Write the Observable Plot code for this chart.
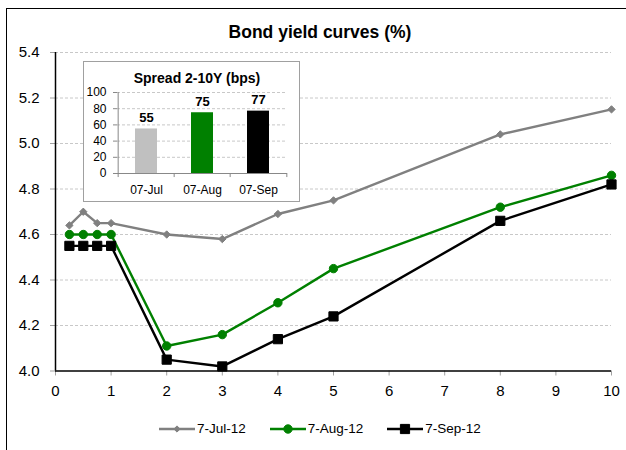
<!DOCTYPE html>
<html>
<head>
<meta charset="utf-8">
<script src="https://cdn.jsdelivr.net/npm/d3@7"></script>
<script src="https://cdn.jsdelivr.net/npm/@observablehq/plot@0.6"></script>
<style>
  body { margin: 0; background: #fff; font-family: "Liberation Sans", Arial, sans-serif; }
  #chart { position: relative; width: 626px; height: 450px; overflow: hidden; background: #fff; }
  #frame { position: absolute; left: 6px; top: 8px; width: 700px; height: 500px;
           border-left: 1.5px solid #000; border-top: 1.5px solid #000; }
  #title { position: absolute; left: 0; width: 640px; top: 22px; text-align: center;
           font-weight: bold; font-size: 17.5px; color: #000; }
  .layer { position: absolute; left: 0; top: 0; }
  #inset-box { position: absolute; left: 83px; top: 61px; width: 215px; height: 139px;
               border: 1px solid #a0a0a0; background: #fff; }
  #inset-title { position: absolute; left: 83px; width: 228px; top: 70px; text-align: center;
                 font-weight: bold; font-size: 14px; color: #000; }
  #legend { position: absolute; left: 159px; top: 421px; display: flex; align-items: center;
            font-size: 13.5px; color: #000; }
  #legend .item { display: flex; align-items: center; margin-right: 24px; }
  #legend svg { display: block; margin-right: 2px; }
</style>
</head>
<body>
<div id="chart">
  <div id="frame"></div>
  <div id="title">Bond yield curves (%)</div>
</div>
<script>
// Maturities (years) and yields (%) for each curve date
const maturities = [0.25, 0.5, 0.75, 1, 2, 3, 4, 5, 8, 10];
const yieldsJul = [4.64, 4.70, 4.65, 4.65, 4.60, 4.58, 4.69, 4.75, 5.04, 5.15];
const yieldsAug = [4.60, 4.60, 4.60, 4.60, 4.11, 4.16, 4.30, 4.45, 4.72, 4.86];
const yieldsSep = [4.55, 4.55, 4.55, 4.55, 4.05, 4.02, 4.14, 4.24, 4.66, 4.82];

const seriesNames = ["7-Jul-12", "7-Aug-12", "7-Sep-12"];
const seriesColors = ["#808080", "#008000", "#000000"];
const seriesSymbols = ["diamond2", "circle", "square"];
const seriesDotR = [3.3, 4.2, 5.2];

const yTicks = [4.0, 4.2, 4.4, 4.6, 4.8, 5.0, 5.2, 5.4];
const xTicks = [0, 1, 2, 3, 4, 5, 6, 7, 8, 9, 10];

// 2-10Y spread (bps) inset
const spreadMonths = ["07-Jul", "07-Aug", "07-Sep"];
const spreadBps = [55, 75, 77];
const spreadColors = ["#c0c0c0", "#008000", "#000000"];
const spreadTicks = [0, 20, 40, 60, 80, 100];

const allYields = [yieldsJul, yieldsAug, yieldsSep];
const rows = seriesNames.flatMap((name, i) =>
  maturities.map((m, j) => ({series: name, maturity: m, yield: allYields[i][j]}))
);

const chart = document.getElementById("chart");
const font = "'Liberation Sans', Arial, sans-serif";

// Main yield curve chart
const main = Plot.plot({
  width: 626,
  height: 450,
  marginLeft: 55,
  marginRight: 15,
  marginTop: 52,
  marginBottom: 79.5,
  style: {fontFamily: font, fontSize: "15px", background: "transparent", color: "#000"},
  x: {domain: [0, 10]},
  y: {domain: [4.0, 5.4]},
  color: {domain: seriesNames, range: seriesColors},
  marks: [
    Plot.gridY(yTicks.slice(1), {stroke: "#c8c8c8", strokeOpacity: 1, strokeDasharray: "3,2"}),
    Plot.axisY(yTicks, {tickFormat: d3.format(".1f"), tickSize: 5, tickPadding: 11,
                        stroke: "#a0a0a0", fill: "#000", fontSize: 15, label: null}),
    Plot.axisX(xTicks, {tickSize: 5, tickPadding: 9, stroke: "#a0a0a0", fill: "#000",
                        fontSize: 15, label: null}),
    Plot.ruleX([0], {y1: 4.0, y2: 5.4, stroke: "#000", strokeWidth: 1.5}),
    Plot.ruleY([4.0], {x1: 0, x2: 10, stroke: "#000", strokeWidth: 1.5}),
    Plot.line(rows, {x: "maturity", y: "yield", z: "series", stroke: "series", strokeWidth: 2.4}),
    ...seriesNames.map((name, i) =>
      Plot.dot(rows.filter(d => d.series === name), {
        x: "maturity", y: "yield", symbol: () => seriesSymbols[i],
        r: seriesDotR[i], fill: seriesColors[i], stroke: seriesColors[i], strokeWidth: 1
      })
    )
  ]
});
main.classList.add("layer");
chart.appendChild(main);

// Inset box and spread bar chart
const box = document.createElement("div");
box.id = "inset-box";
chart.appendChild(box);

const insetW = 216, insetH = 140, insetML = 34, insetMR = 12;
const bandStep = (insetW - insetML - insetMR) / spreadMonths.length;
const spreadRows = spreadMonths.map((m, i) => ({month: m, bps: spreadBps[i], color: spreadColors[i]}));

const inset = Plot.plot({
  width: insetW,
  height: insetH,
  marginLeft: insetML,
  marginRight: insetMR,
  marginTop: 31,
  marginBottom: 28,
  style: {fontFamily: font, fontSize: "12px", background: "transparent", color: "#000"},
  x: {domain: spreadMonths, paddingInner: 0.6, paddingOuter: 0.3},
  y: {domain: [0, 100]},
  marks: [
    Plot.gridY(spreadTicks.slice(1), {stroke: "#c8c8c8", strokeOpacity: 1, strokeDasharray: "3,2"}),
    Plot.axisY(spreadTicks, {tickSize: 4, tickPadding: 7, stroke: "#888", fill: "#000",
                             fontSize: 12, label: null}),
    Plot.axisX(spreadMonths, {tickSize: 0, tickPadding: 12, fill: "#000", fontSize: 12, label: null}),
    Plot.barY(spreadRows, {x: "month", y: "bps", fill: "color"}),
    Plot.ruleX(spreadMonths, {x: d => d, dx: -bandStep / 2, y1: 0, y2: -5, stroke: "#888"}),
    Plot.ruleX(spreadMonths.slice(-1), {x: d => d, dx: bandStep / 2, y1: 0, y2: -5, stroke: "#888"}),
    Plot.ruleX(spreadMonths.slice(0, 1), {x: d => d, dx: -bandStep / 2, y1: 0, y2: 100, stroke: "#888"}),
    Plot.ruleY([0], {stroke: "#888"}),
    Plot.text(spreadRows, {x: "month", y: "bps", text: d => String(d.bps), dy: -11,
                           fontWeight: "bold", fontSize: 13, fill: "#000"})
  ]
});
inset.style.position = "absolute";
inset.style.left = "83px";
inset.style.top = "61px";
chart.appendChild(inset);

const insetTitle = document.createElement("div");
insetTitle.id = "inset-title";
insetTitle.textContent = "Spread 2-10Y (bps)";
chart.appendChild(insetTitle);

// Legend
const legend = document.createElement("div");
legend.id = "legend";
seriesNames.forEach((name, i) => {
  const item = document.createElement("div");
  item.className = "item";
  const svg = d3.create("svg").attr("width", 36).attr("height", 12);
  svg.append("line").attr("x1", 0).attr("x2", 36).attr("y1", 6).attr("y2", 6)
    .attr("stroke", seriesColors[i]).attr("stroke-width", 2.4);
  const sym = {diamond2: d3.symbolDiamond2, circle: d3.symbolCircle, square: d3.symbolSquare}[seriesSymbols[i]];
  const rr = seriesDotR[i] * (i === 0 ? 0.85 : 1);
  svg.append("path").attr("transform", "translate(18,6)")
    .attr("d", d3.symbol(sym, Math.PI * rr * rr)())
    .attr("fill", seriesColors[i]).attr("stroke", seriesColors[i]);
  item.appendChild(svg.node());
  const label = document.createElement("span");
  label.textContent = name;
  item.appendChild(label);
  legend.appendChild(item);
});
chart.appendChild(legend);
</script>
</body>
</html>
